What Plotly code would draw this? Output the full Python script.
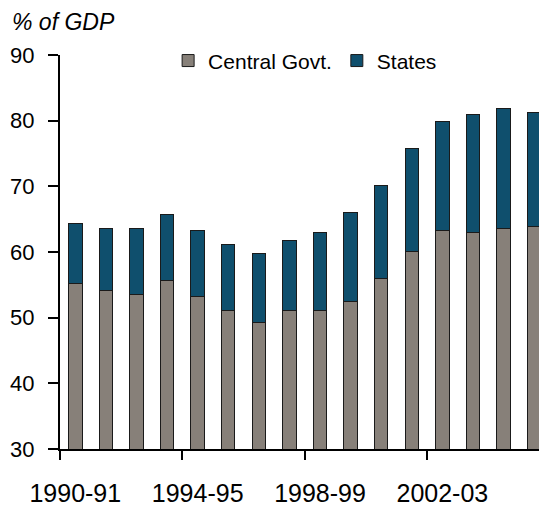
import plotly.graph_objs as go

years = ['1990-91', '1991-92', '1992-93', '1993-94', '1994-95', '1995-96',
         '1996-97', '1997-98', '1998-99', '1999-00', '2000-01', '2001-02',
         '2002-03', '2003-04', '2004-05', '2005-06']
central = [55.2, 54.2, 53.5, 55.6, 53.2, 51.1, 49.3, 51.1,
           51.1, 52.4, 55.9, 60.1, 63.2, 62.9, 63.6, 63.9]
states = [9.1, 9.4, 10.1, 10.1, 10.0, 10.1, 10.5, 10.7,
          11.8, 13.6, 14.3, 15.6, 16.7, 18.0, 18.3, 17.3]
label_years = ['1990-91', '1994-95', '1998-99', '2002-03']

x = list(range(len(years)))
label_pos = [years.index(y) for y in label_years]
tick_pos = [p - 0.5 for p in label_pos]

font = 'Arial, Liberation Sans, sans-serif'

fig = go.Figure()
fig.add_trace(go.Bar(x=x, y=central, name='Central Govt.', width=0.44,
                     marker=dict(color='#878079', line=dict(color='#1a1a1a', width=1))))
fig.add_trace(go.Bar(x=x, y=states, name='States', width=0.44,
                     marker=dict(color='#0f4f6d', line=dict(color='#1a1a1a', width=1))))
# empty trace so the tick-mark axis gets drawn
fig.add_trace(go.Scatter(x=[], y=[], xaxis='x2', showlegend=False, hoverinfo='skip'))

# page body has an 8px margin, so the figure is a bit smaller than the window
fig.update_layout(
    width=539, height=499,
    barmode='stack',
    plot_bgcolor='white', paper_bgcolor='white',
    margin=dict(l=52, r=0, t=47, b=58),
    font=dict(family=font, color='black'),
    showlegend=True,
    legend=dict(orientation='h', x=0.222, y=0.985, xanchor='left', yanchor='middle',
                font=dict(size=21), bgcolor='rgba(0,0,0,0)', traceorder='normal'),
    xaxis=dict(range=[-0.5, 15.42], tickmode='array', tickvals=label_pos, ticktext=label_years,
               ticks='', showline=True, linecolor='black', linewidth=2, showgrid=False,
               zeroline=False, tickfont=dict(size=25), ticklabelstandoff=21,
               automargin=False),
    xaxis2=dict(overlaying='x', anchor='y', side='bottom', range=[-0.5, 15.42],
                tickmode='array', tickvals=tick_pos, ticks='outside', ticklen=10, tickwidth=2,
                tickcolor='black', showticklabels=False, showline=False, showgrid=False,
                zeroline=False, automargin=False),
    yaxis=dict(range=[30, 90], dtick=10, ticks='outside', ticklen=10, tickwidth=2,
               tickcolor='black', showline=True, linecolor='black', linewidth=2,
               showgrid=False, zeroline=False, tickfont=dict(size=22), ticklabelstandoff=9,
               automargin=False),
    annotations=[dict(text='<i>% of GDP</i>', xref='paper', yref='paper', x=-0.103, y=1.085,
                      xanchor='left', yanchor='middle', showarrow=False,
                      font=dict(size=23, family=font))]
)

fig.write_html("out.html")
